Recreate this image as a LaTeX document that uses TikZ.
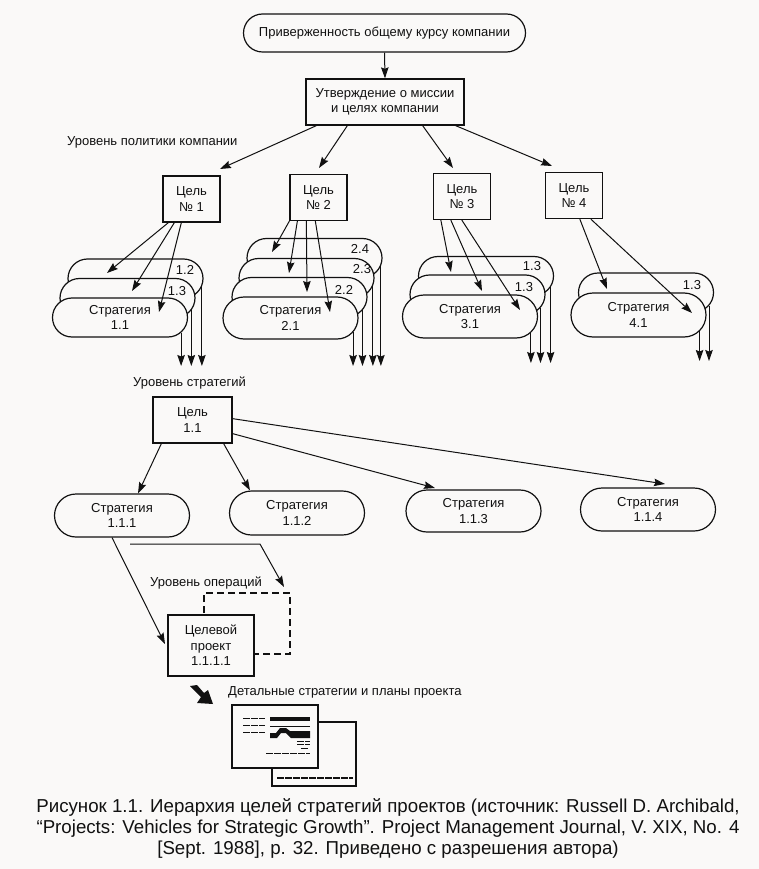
\documentclass[tikz,border=0pt]{standalone}
\usepackage{fontspec}
\setmainfont{Liberation Sans}
\usetikzlibrary{arrows.meta, positioning, shapes.misc}
\definecolor{paper}{HTML}{FAF9F8}
\definecolor{ink}{HTML}{111111}

\begin{document}
\begin{tikzpicture}[
    x=1pt, y=-1pt,
    every node/.style={text=ink, font=\fontsize{13}{15.5}\selectfont},
    arr/.style={draw=ink, line width=1pt, -{Stealth[length=11pt,width=7.5pt,inset=1.5pt]}},
    boxnode/.style={rectangle, draw=ink, line width=1.3pt, fill=paper, align=center, inner sep=0pt},
    goalnode/.style={boxnode, minimum width=57pt, minimum height=46pt},
    stratnode/.style={rounded rectangle, draw=ink, line width=1.2pt, fill=paper, align=center,
        inner sep=0pt, minimum width=135pt, minimum height=39pt},
    numlabel/.style={inner sep=0pt},
    levellabel/.style={inner sep=0pt},
    greek/.style={draw=ink, line width=1pt, dash pattern=on 7pt off 1pt}
]

\fill[paper] (0,0) rectangle (759,869);
\useasboundingbox (0,0) rectangle (759,869);

% Top of the hierarchy
\node[rounded rectangle, draw=ink, line width=1.2pt, fill=paper, inner sep=0pt,
      minimum width=282pt, minimum height=38pt] (course) at (384.5,33) {Приверженность общему курсу компании};
\node[boxnode, minimum width=158pt, minimum height=46pt] (mission) at (385,102) {Утверждение о миссии\\и целях компании};
\draw[arr] (course.south) -- (mission.north);

\node[levellabel, anchor=west] (policy) at (67,142) {Уровень политики компании};

% Goals
\node[goalnode] (goalA) at (191.5,199) {Цель\\№ 1};
\node[goalnode] (goalB) at (318.5,197.5) {Цель\\№ 2};
\node[goalnode] (goalC) at (462,196.5) {Цель\\№ 3};
\node[goalnode] (goalD) at (574,195.5) {Цель\\№ 4};

\coordinate (tipA) at (220,169);
\coordinate (tipB) at (319,168);
\coordinate (tipC) at (453,168);
\coordinate (tipD) at (552,166);
\draw[arr] ([xshift=11pt]mission.south west) -- (tipA);
\draw[arr] ([xshift=42pt]mission.south west) -- (tipB);
\draw[arr] ([xshift=-42pt]mission.south east) -- (tipC);
\draw[arr] ([xshift=-9pt]mission.south east) -- (tipD);

% Stacks of strategies, back one first
\coordinate (endA) at (0,366);
\coordinate (endB) at (0,366);
\coordinate (endC) at (0,363);
\coordinate (endD) at (0,361);

\node[stratnode] (stratA3) at (135.5,278.5) {};
\draw[arr] (stratA3.-7) -- (stratA3.-7 |- endA);
\node[stratnode] (stratA2) at (127.5,298) {};
\draw[arr] (stratA2.-11) -- (stratA2.-11 |- endA);
\node[stratnode] (stratA1) at (120,317.5) {Стратегия\\1.1};
\draw[arr] (stratA1.-14) -- (stratA1.-14 |- endA);
\node[numlabel] (numA3) at (185,270) {1.2};
\node[numlabel] (numA2) at (177,291) {1.3};

\node[stratnode] (stratB4) at (314.5,258) {};
\draw[arr] (stratB4.-7) -- (stratB4.-7 |- endB);
\node[stratnode] (stratB3) at (306.5,278) {};
\draw[arr] (stratB3.-7) -- (stratB3.-7 |- endB);
\node[stratnode] (stratB2) at (299.5,297) {};
\draw[arr] (stratB2.-12) -- (stratB2.-12 |- endB);
\node[stratnode, minimum height=42pt] (stratB1) at (290.5,318) {Стратегия\\2.1};
\draw[arr] (stratB1.-13) -- (stratB1.-13 |- endB);
\node[numlabel] (numB4) at (360,249) {2.4};
\node[numlabel] (numB3) at (362,269) {2.3};
\node[numlabel] (numB2) at (344,290) {2.2};

\node[stratnode] (stratC3) at (486,276) {};
\draw[arr] (stratC3.-10) -- (stratC3.-10 |- endC);
\node[stratnode] (stratC2) at (477.5,294.5) {};
\draw[arr] (stratC2.-12) -- (stratC2.-12 |- endC);
\node[stratnode, minimum height=43pt] (stratC1) at (470,316.5) {Стратегия\\3.1};
\draw[arr] (stratC1.-15) -- (stratC1.-15 |- endC);
\node[numlabel] (numC3) at (532,266) {1.3};
\node[numlabel] (numC2) at (524,287) {1.3};

\node[stratnode] (stratD2) at (646,292.5) {};
\draw[arr] (stratD2.-12) -- (stratD2.-12 |- endD);
\node[stratnode, minimum height=44pt] (stratD1) at (638.5,315) {Стратегия\\4.1};
\draw[arr] (stratD1.-15) -- (stratD1.-15 |- endD);
\node[numlabel] (numD2) at (692,285) {1.3};

% Arrows from the goals end on the stacks
\coordinate (tipA3) at (107,273);
\coordinate (tipA2) at (132,291);
\coordinate (tipA1) at (159,312);
\draw[arr] ([xshift=6pt]goalA.south west) -- (tipA3);
\draw[arr] ([xshift=12pt]goalA.south west) -- (tipA2);
\draw[arr] ([xshift=19pt]goalA.south west) -- (tipA1);

\coordinate (tipB4) at (272,252);
\coordinate (tipB3) at (289,273);
\coordinate (tipB2) at (307,292);
\coordinate (tipB1) at (330,312);
\draw[arr] ([xshift=0pt]goalB.south west) -- (tipB4);
\draw[arr] ([xshift=8pt]goalB.south west) -- (tipB3);
\draw[arr] ([xshift=17pt]goalB.south west) -- (tipB2);
\draw[arr] ([xshift=26pt]goalB.south west) -- (tipB1);

\coordinate (tipC3) at (451,272);
\coordinate (tipC2) at (482,291);
\coordinate (tipC1) at (520,310);
\draw[arr] ([xshift=8pt]goalC.south west) -- (tipC3);
\draw[arr] ([xshift=18pt]goalC.south west) -- (tipC2);
\draw[arr] ([xshift=29pt]goalC.south west) -- (tipC1);

\coordinate (tipD2) at (607,289);
\coordinate (tipD1) at (692,313);
\draw[arr] ([xshift=35pt]goalD.south west) -- (tipD2);
\draw[arr] ([xshift=46pt]goalD.south west) -- (tipD1);

% Strategy level
\node[levellabel, anchor=west] (stratlevel) at (133,383) {Уровень стратегий};
\node[goalnode, minimum width=79pt] (goalE) at (192.5,420) {Цель\\1.1};
\node[stratnode, minimum height=43pt] (strat111) at (122,515.5) {Стратегия\\1.1.1};
\node[stratnode, minimum height=44pt] (strat112) at (297,513) {Стратегия\\1.1.2};
\node[stratnode, minimum height=42pt] (strat113) at (473.5,511) {Стратегия\\1.1.3};
\node[stratnode, minimum height=43pt] (strat114) at (648,509.5) {Стратегия\\1.1.4};

\coordinate (tip113) at (435,488);
\coordinate (tip114) at (665,484);
\draw[arr] ([xshift=9pt]goalE.south west) -- ([xshift=16pt]strat111.north);
\draw[arr] ([xshift=-9pt]goalE.south east) -- ([xshift=-47pt]strat112.north);
\draw[arr] ([yshift=10pt]goalE.south east) -- (tip113);
\draw[arr] ([yshift=25pt]goalE.south east) -- (tip114);

% Project level
\node[levellabel, anchor=west] (oplevel) at (150,583) {Уровень операций};
\draw[draw=ink, line width=1.2pt, dash pattern=on 7pt off 4pt] (204,613) -- (204,593) -- (290,593) -- (290,654) -- (255,654);
\node[boxnode, minimum width=86pt, minimum height=61pt] (project) at (211,645.5) {Целевой\\проект\\1.1.1.1};

\coordinate (tipProject) at (165,644);
\coordinate (lineLeft) at (130,544);
\coordinate (lineBend) at (260,544);
\coordinate (tipDashed) at (284,587);
\draw[arr] ([xshift=-10pt]strat111.south) -- (tipProject);
\draw[arr] (lineLeft) -- (lineBend) -- (tipDashed);

% Plans
\node[levellabel, anchor=west] (planlevel) at (228,692) {Детальные стратегии и планы проекта};
\fill[ink] (190,686) -- (197,685) -- (204,693) -- (208,690) -- (213,704) -- (197,703) -- (201,697) -- cycle;

\draw[ink, line width=1.3pt, fill=paper] (272,722) rectangle (356,786);
\draw[ink, line width=1.3pt, fill=paper] (232,705) rectangle (318,768);
\draw[greek, line width=1.4pt] (277,778) -- (353,778);
\draw[greek] (243,718) -- (265,718);
\draw[greek] (243,725) -- (265,725);
\draw[greek] (243,732) -- (265,732);
\draw[ink, line width=3.5pt] (270,719) -- (310,719);
\draw[ink, line width=1pt] (270,726) -- (310,726);
\fill[ink] (270,738) -- (270,733) -- (276,733) -- (280,728) -- (286,728) -- (290,731) -- (310,731) -- (310,738) -- (291,738) -- (286,733) -- (281,733) -- (277,738) -- cycle;
\draw[greek] (297,741) -- (310,741);
\draw[greek] (297,744.5) -- (310,744.5);
\draw[greek] (301,748) -- (308,748);
\draw[greek] (266,753) -- (310,753);

% Caption
\node[align=center, inner sep=0pt, font=\fontsize{18.7}{21}\selectfont] (caption) at (388,828)
    {Рисунок 1.1. Иерархия целей стратегий проектов (источник: Russell D. Archibald,\\
     “Projects: Vehicles for Strategic Growth”. Project Management Journal, V. XIX, No. 4\\
     {[Sept. 1988], p. 32. Приведено с разрешения автора)}};

\end{tikzpicture}
\end{document}
